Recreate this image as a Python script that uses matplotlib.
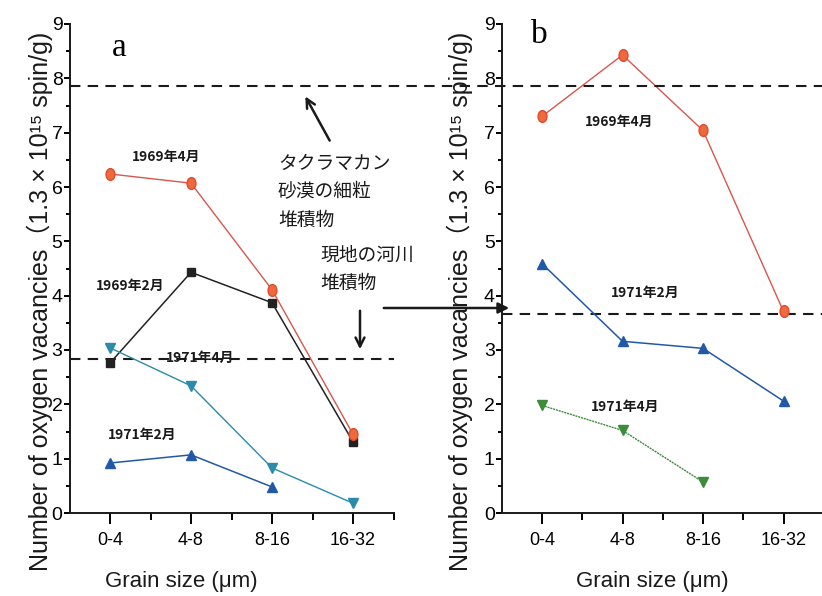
import matplotlib
matplotlib.use("Agg")
import matplotlib.pyplot as plt
from matplotlib.markers import MarkerStyle
from matplotlib.transforms import Affine2D
from matplotlib.lines import Line2D
from matplotlib.patches import FancyArrowPatch

# Grain-size classes (µm) and oxygen-vacancy counts (x 1.3e15 spin/g)
sizes = ["0-4", "4-8", "8-16", "16-32"]

a_1969_apr = [6.24, 6.07, 4.11, 1.45]
a_1969_feb = [2.76, 4.43, 3.87, 1.31]
a_1971_apr = [3.04, 2.34, 0.83, 0.18]
a_1971_feb = [0.92, 1.07, 0.48]

b_1969_apr = [7.30, 8.43, 7.04, 3.71]
b_1971_feb = [4.59, 3.16, 3.03, 2.06]
b_1971_apr = [1.98, 1.52, 0.57]

taklamakan_level = 7.85
river_level_a = 2.83
river_level_b = 3.66

W, H = 822, 596
fig = plt.figure(figsize=(W / 100, H / 100), dpi=100)

JP = ["Noto Sans CJK JP", "DejaVu Sans"]
LAT = ["Liberation Sans", "DejaVu Sans", "Noto Sans CJK JP"]

RED, RED_LINE = "#ee6a3c", "#d8564e"
BLACK = "#222222"
TEAL = "#2b8bab"
BLUE = "#2158a8"
GREEN = "#3c8c3c"

ellipse = MarkerStyle("o", transform=Affine2D().scale(0.75, 1.0))


def px_axes(x0, x1, y_top, y_bot):
    return fig.add_axes([x0 / W, 1 - y_bot / H, (x1 - x0) / W, (y_bot - y_top) / H])


def style(ax):
    ax.set_xlim(0.5, 4.5)
    ax.set_ylim(0, 9)
    for s in ("top", "right"):
        ax.spines[s].set_visible(False)
    for s in ("left", "bottom"):
        ax.spines[s].set_linewidth(1.4)
        ax.spines[s].set_color("#1a1a1a")
    ax.set_xticks([1, 2, 3, 4])
    ax.set_xticks([1.5, 2.5, 3.5, 4.5], minor=True)
    ax.set_xticklabels(sizes, family=LAT, fontsize=13)
    ax.set_yticks(range(10))
    ax.set_yticks([i + 0.5 for i in range(9)], minor=True)
    ax.set_yticklabels([str(i) for i in range(10)], family=LAT, fontsize=14)
    ax.tick_params(axis="x", which="major", direction="out", length=8, width=1.4, pad=6)
    ax.tick_params(axis="x", which="minor", direction="out", length=5, width=1.4)
    ax.tick_params(axis="y", which="major", direction="out", length=4, width=1.4, pad=1)
    ax.tick_params(axis="y", which="minor", direction="out", length=3, width=1.4)
    ax.patch.set_alpha(0)


x = [1, 2, 3, 4]

# ---- panel a ----
ax_a = px_axes(69.5, 393.5, 24, 513)
style(ax_a)
ax_a.plot(x, a_1969_apr, color=RED_LINE, lw=1.0, marker=ellipse, ms=8.5,
          mfc=RED, mec="#e04a30", zorder=4)
ax_a.plot(x, a_1969_feb, color=BLACK, lw=1.1, marker="s", ms=5.5,
          mfc=BLACK, mec=BLACK, zorder=3)
ax_a.plot(x, a_1971_apr, color=TEAL, lw=1.0, marker="v", ms=7.5,
          mfc=TEAL, mec=TEAL, zorder=3)
ax_a.plot(x[:3], a_1971_feb, color=BLUE, lw=1.1, marker="^", ms=7.5,
          mfc=BLUE, mec=BLUE, zorder=3)

ax_a.axhline(river_level_a, xmin=0, xmax=(420 - 69.5) / 324, color="#1a1a1a",
             lw=1.5, ls=(0, (5, 3.5)), zorder=2)

lab = dict(family=JP, fontsize=10, fontweight="bold", ha="center", va="center",
           color="#1a1a1a")
ax_a.text(1.69, 6.56, "1969年4月", **lab)
ax_a.text(1.25, 4.17, "1969年2月", **lab)
ax_a.text(2.11, 2.85, "1971年4月", **lab)
ax_a.text(1.40, 1.44, "1971年2月", **lab)

ax_a.text(1.11, 8.56, "a", family=["Liberation Serif", "DejaVu Serif"],
          fontsize=24, ha="center", va="center")

# ---- panel b ----
ax_b = px_axes(501.75, 823.75, 24, 513)
style(ax_b)
ax_b.plot(x, b_1969_apr, color=RED_LINE, lw=1.0, marker=ellipse, ms=8.5,
          mfc=RED, mec="#e04a30", zorder=4)
ax_b.plot(x, b_1971_feb, color=BLUE, lw=1.1, marker="^", ms=7.5,
          mfc=BLUE, mec=BLUE, zorder=3)
ax_b.plot(x[:3], b_1971_apr, color=GREEN, lw=1.0, ls=(0, (1.5, 0.6)),
          marker="v", ms=7.5, mfc=GREEN, mec=GREEN, zorder=3)

ax_b.axhline(river_level_b, color="#1a1a1a", lw=1.5, ls=(0, (5, 3.5)), zorder=2)

ax_b.text(1.96, 7.20, "1969年4月", **lab)
ax_b.text(2.28, 4.05, "1971年2月", **lab)
ax_b.text(2.03, 1.96, "1971年4月", **lab)

ax_b.text(0.97, 8.80, "b", family=["Liberation Serif", "DejaVu Serif"],
          fontsize=24, ha="center", va="center")

# Taklamakan fine-sediment level spans both panels
y_tk = 513 - taklamakan_level * (489 / 9)
fig.add_artist(Line2D([69.5 / W, 1.0], [1 - y_tk / H] * 2, color="#1a1a1a",
                      lw=1.5, ls=(0, (5, 3.5)), zorder=2))

# ---- annotations ----
ann = dict(family=JP, fontsize=13.5, ha="left", va="top", color="#1a1a1a",
           linespacing=1.45)
fig.text(278 / W, 1 - 153 / H, "タクラマカン\n砂漠の細粒\n堆積物", **ann)
fig.text(320 / W, 1 - 245 / H, "現地の河川\n堆積物", **ann)


def fig_arrow(x0, y0, x1, y1, style="->"):
    fig.add_artist(FancyArrowPatch(
        (x0 / W, 1 - y0 / H), (x1 / W, 1 - y1 / H),
        transform=fig.transFigure, arrowstyle=style, mutation_scale=16,
        lw=1.8, color="#1a1a1a"))


fig_arrow(331, 143, 304, 94)
fig_arrow(360, 308, 360, 352)
fig_arrow(381, 308, 512, 308, style="-|>")

# ---- axis titles ----
ylab = "Number of oxygen vacancies（1.3 × 10¹⁵ spin/g)"
fig.text(40 / W, 1 - 301 / H, ylab, rotation=90, family=LAT, fontsize=18,
         ha="center", va="center", color="#1a1a1a")
fig.text(460 / W, 1 - 301 / H, ylab, rotation=90, family=LAT, fontsize=18,
         ha="center", va="center", color="#1a1a1a")
fig.text(181 / W, 1 - 582 / H, "Grain size (μm)", family=LAT, fontsize=16,
         ha="center", va="center", color="#1a1a1a")
fig.text(652 / W, 1 - 582 / H, "Grain size (μm)", family=LAT, fontsize=16,
         ha="center", va="center", color="#1a1a1a")

fig.savefig("out.png", dpi=100)
